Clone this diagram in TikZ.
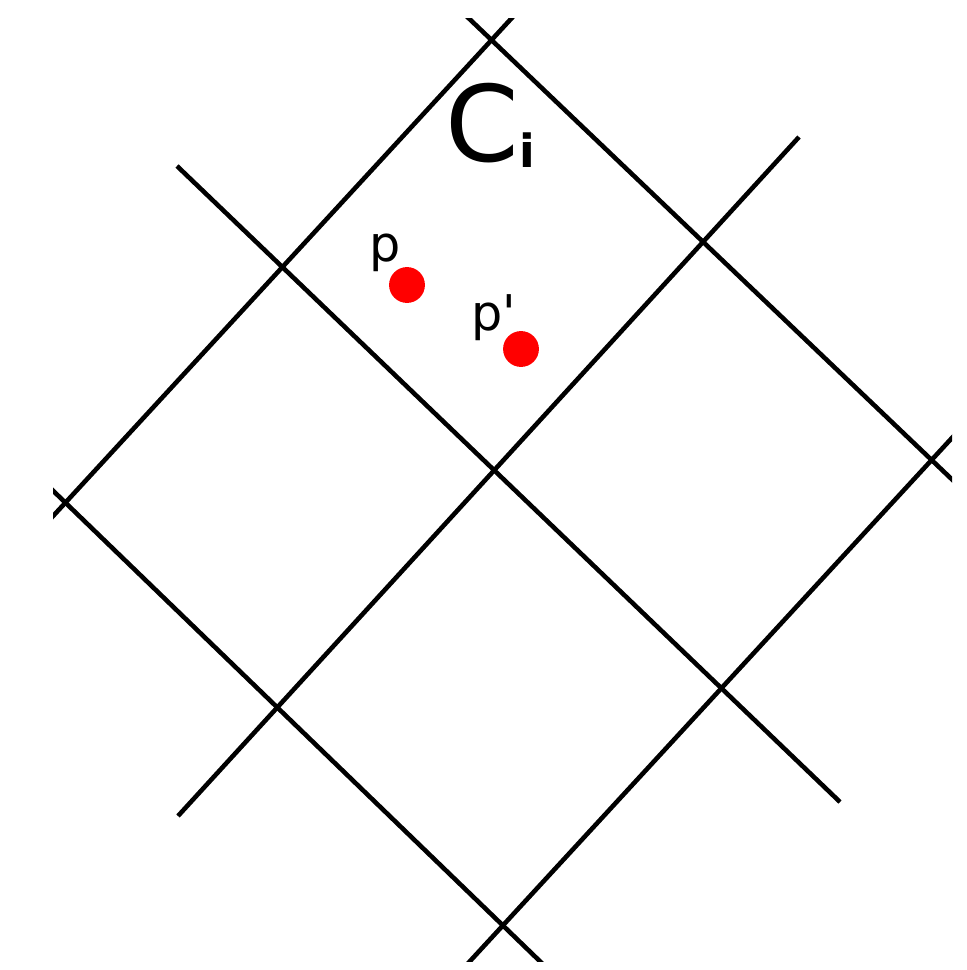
\documentclass[tikz,border=0pt]{standalone}
\usepackage{fontspec}
\setmainfont{DejaVu Sans}
\newfontfamily\labelfont{DejaVu Sans}
\usetikzlibrary{positioning}

\tikzset{
  gridline/.style={line width=1.3pt, black},
  pt/.style={circle, fill=red, inner sep=0pt, minimum size=10.2pt},
  ptlabel/.style={font=\labelfont\fontsize{14}{14}\selectfont, inner sep=0pt}
}

\begin{document}
\begin{tikzpicture}[x=0.01cm, y=-0.01cm]
  \useasboundingbox (0,0) rectangle (967,970);

  \begin{scope}
    \clip (53,19) rectangle (952,961);
    % lines going up to the right
    \draw[gridline] (43,527) -- (521,8);
    \draw[gridline] (178,816) -- (799,137);
    \draw[gridline] (460,972) -- (962,427);

    % lines going down to the right
    \draw[gridline] (459,9) -- (962,489);
    \draw[gridline] (177,166) -- (840,802);
    \draw[gridline] (43,481) -- (550,971);
  \end{scope}

  % cell name
  \node[anchor=base west, inner sep=0pt] (cell) at (445,162)
    {\fontsize{30}{30}\selectfont C\raisebox{-1.5pt}{\fontsize{13}{13}\selectfont\bfseries i}};

  % the two points
  \node[pt] (p) at (407,285) {};
  \node[pt] (pp) at (521,349) {};
  \node[ptlabel] (plab) at (385,253) {p};
  \node[ptlabel] (pplab) at (494,318) {p'};
\end{tikzpicture}
\end{document}
